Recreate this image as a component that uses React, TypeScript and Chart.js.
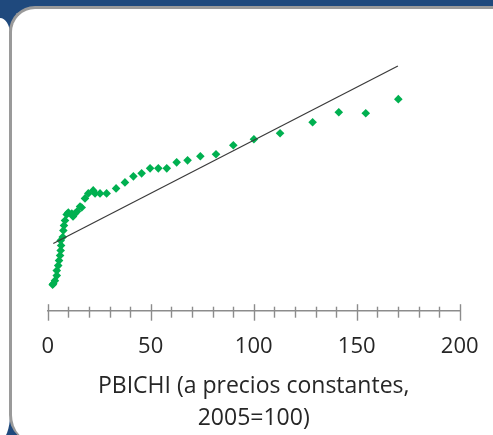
import React, { useEffect, useRef } from "react";
import { Chart, registerables } from "chart.js";

Chart.register(...registerables);

// PBICHI (x) vs. index (y, arbitrary units)
const pbiValues = [
  2.4, 2.7, 3.5, 4.4, 4.4, 5.1, 5.5, 6.0, 6.3, 6.5, 6.3, 7.3, 7.6, 7.9, 8.4, 9.2,
  10.0, 11.7, 12.3, 13.3, 14.2, 15.7, 16.5, 18.1, 19.7, 22.1, 23.0, 25.4, 28.6,
  33.2, 37.5, 41.6, 45.6, 49.7, 53.7, 57.8, 62.6, 67.9, 74.1, 81.7, 90.1, 100.1,
  112.8, 128.6, 141.3, 154.4, 170.2,
];
const yValues = [
  13, 13.5, 15, 17.5, 20, 22.5, 25, 27.5, 30, 32.5, 35, 36.7, 40, 42.5, 45, 48,
  49, 48.5, 47, 48.5, 49.5, 52, 51.5, 56, 58.5, 60, 58.5, 58.5, 58.5,
  61, 64, 67, 68.5, 71, 71, 71, 74, 75, 77, 78, 82.5, 85.5,
  88.5, 94, 99, 98.5, 105.5,
];
const trendX = [2.7, 170];
const trendY = [33.5, 122];
const xTickLabels = [0, 50, 100, 150, 200];
const axisTitle = ["PBICHI (a precios constantes,", "2005=100)"];

const crossTicks = {
  id: "crossTicks",
  afterDraw(chart: any) {
    const sx = chart.scales.x;
    const ctx = chart.ctx;
    const y0 = sx.top;
    ctx.save();
    ctx.strokeStyle = "#8c8c8c";
    ctx.lineWidth = 1.4;
    for (let v = 0; v <= 200; v += 10) {
      const px = Math.round(sx.getPixelForValue(v)) + 0.5;
      const major = xTickLabels.includes(v);
      ctx.beginPath();
      ctx.moveTo(px, y0 - (major ? 6.5 : 4));
      ctx.lineTo(px, y0 + (major ? 10 : 7));
      ctx.stroke();
    }
    ctx.restore();
  },
};

export default function App() {
  const ref = useRef<HTMLCanvasElement>(null);
  useEffect(() => {
    const chart = new Chart(ref.current!, {
      type: "scatter",
      data: {
        datasets: [
          {
            type: "line",
            data: trendX.map((x, i) => ({ x, y: trendY[i] })),
            borderColor: "#3a3a3a",
            borderWidth: 1.2,
            pointRadius: 0,
            fill: false,
          } as any,
          {
            data: pbiValues.map((x, i) => ({ x, y: yValues[i] })),
            pointStyle: "rectRot",
            pointRadius: 4.3,
            backgroundColor: "#00B050",
            borderColor: "#00B050",
            borderWidth: 0,
          },
        ],
      },
      options: {
        responsive: false,
        animation: false,
        layout: { padding: { left: 47.7, right: 33.3, top: 30, bottom: 0 } },
        plugins: { legend: { display: false }, tooltip: { enabled: false } },
        scales: {
          x: {
            type: "linear",
            min: 0,
            max: 200,
            grid: { display: false, drawTicks: false, tickLength: 0 },
            border: { display: true, color: "#8c8c8c", width: 1.4 },
            afterFit: (scale: any) => {
              scale.paddingLeft = 0;
              scale.paddingRight = 0;
              scale.height = 124.3;
            },
            ticks: {
              stepSize: 10,
              autoSkip: false,
              maxRotation: 0,
              padding: 23,
              color: "#262626",
              font: { family: "'Open Sans'", size: 22 },
              callback: (v: any) => (xTickLabels.includes(Number(v)) ? String(v) : ""),
            },
            title: {
              display: true,
              text: axisTitle,
              color: "#262626",
              font: { family: "'Open Sans'", size: 23, lineHeight: 1.35 },
              padding: { top: 4, bottom: 1.5 },
            },
          },
          y: { display: false, min: 0, max: 140 },
        },
      },
      plugins: [crossTicks],
    });
    return () => chart.destroy();
  }, []);

  return (
    <div
      style={{
        position: "absolute",
        left: 0,
        top: 0,
        width: 493,
        height: 435,
        overflow: "hidden",
        background: "#1F497D",
      }}
    >
      <div
        style={{
          position: "absolute",
          left: 0,
          top: 18,
          width: 10,
          height: 422,
          background: "#fff",
          borderTopRightRadius: "10px 16px",
          borderBottomRightRadius: "10px 25px",
        }}
      />
      <div
        style={{
          position: "absolute",
          left: 9,
          top: 6,
          width: 500,
          height: 434,
          background: "#fff",
          borderLeft: "3px solid #9a9a9a",
          borderTop: "3px solid #9a9a9a",
          borderTopLeftRadius: 26,
          borderBottomLeftRadius: 28,
        }}
      />
      <canvas
        ref={ref}
        width={493}
        height={435}
        style={{ position: "absolute", left: 0, top: 0 }}
      />
    </div>
  );
}
